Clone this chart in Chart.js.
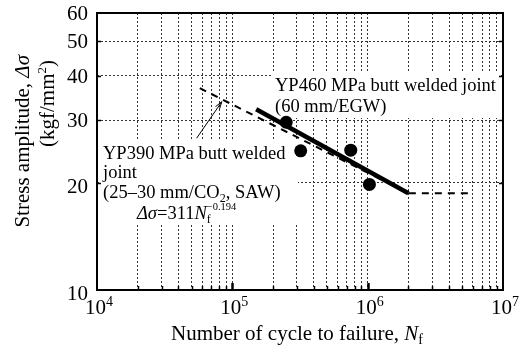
<!DOCTYPE html>
<html>
<head>
<meta charset="utf-8">
<script src="https://cdn.jsdelivr.net/npm/chart.js@4.4.1/dist/chart.umd.min.js"></script>
<style>
  html, body { margin: 0; padding: 0; background: #fff; }
</style>
</head>
<body>
<canvas id="myChart" width="528" height="354"></canvas>
<script>
// data
const cycles = [2.5e5, 3.2e5, 7.5e5, 1.03e6];
const stress = [29.6, 24.6, 24.7, 19.8];
const yp460Cycles = [1.5e5, 2.0e6];
const yp460Stress = [32.2, 18.7];
const yp390Cycles = [5.75e4, 2.0e6, 5.7e6];
const yp390Stress = [36.9, 18.7, 18.7];
const xTickExp = [4, 5, 6, 7];
const yTicks = [10, 20, 30, 40, 50, 60];

// minor grid 1..9 x 10^k
const xGrid = [];
for (let k = 4; k < 7; k++) for (let m = 1; m < 10; m++) xGrid.push(m * Math.pow(10, k));
xGrid.push(1e7);

const pts = (xs, ys) => xs.map((x, i) => ({ x: x, y: ys[i] }));
const FONT = '"Liberation Serif", "Times New Roman", serif';
const fnt = (size, it) => (it ? 'italic ' : '') + size + 'px ' + FONT;

// parts: [text, size, italic, dy, noAdvance]
function drawRuns(ctx, x, y, parts, align) {
  let w = 0;
  parts.forEach(p => { ctx.font = fnt(p[1], p[2]); p.w = ctx.measureText(p[0]).width; if (!p[4]) w += p.w; });
  let cx = align === 'center' ? x - w / 2 : align === 'right' ? x - w : x;
  ctx.textAlign = 'left';
  parts.forEach(p => { ctx.font = fnt(p[1], p[2]); ctx.fillText(p[0], cx, y + (p[3] || 0)); if (!p[4]) cx += p.w; });
}

const notes = {
  id: 'notes',
  beforeDatasetsDraw(chart) {
    const ctx = chart.ctx;
    const xs = chart.scales.x, ys = chart.scales.y;
    ctx.save();
    ctx.fillStyle = '#fff';
    ctx.fillRect(272, 72, 229, 46);
    ctx.fillRect(100, 140, 198, 85);
    ctx.fillStyle = '#000';
    ctx.textBaseline = 'alphabetic';
    drawRuns(ctx, 275, 91, [['YP460 MPa butt welded joint', 18.5, false, 0]], 'left');
    drawRuns(ctx, 275, 112, [['(60 mm/EGW)', 18.5, false, 0]], 'left');
    drawRuns(ctx, 103, 159, [['YP390 MPa butt welded', 18.5, false, 0]], 'left');
    drawRuns(ctx, 103, 178, [['joint', 18.5, false, 0]], 'left');
    drawRuns(ctx, 103, 198, [['(25\u201330 mm/CO', 18.5, false, 0], ['2', 12, false, 4], [', SAW)', 18.5, false, 0]], 'left');
    drawRuns(ctx, 137, 219, [['\u0394\u03c3', 18.5, true, 0], ['=311', 18.5, false, 0], ['N', 18.5, true, 0],
      ['f', 12, false, 4, true], ['\u22120.194', 10.5, false, -9]], 'left');

    // arrow from label to the YP390 line
    const tx = xs.getPixelForValue(5.45e4), ty = ys.getPixelForValue(26.7);
    const hx = xs.getPixelForValue(8.36e4), hy = ys.getPixelForValue(33.8);
    const ang = Math.atan2(hy - ty, hx - tx);
    ctx.strokeStyle = '#000';
    ctx.lineWidth = 1;
    ctx.beginPath();
    ctx.moveTo(tx, ty); ctx.lineTo(hx, hy);
    ctx.moveTo(hx - 8 * Math.cos(ang - 0.3), hy - 8 * Math.sin(ang - 0.3));
    ctx.lineTo(hx, hy);
    ctx.lineTo(hx - 8 * Math.cos(ang + 0.3), hy - 8 * Math.sin(ang + 0.3));
    ctx.stroke();
    ctx.restore();
  }
};

const frame = {
  id: 'frame',
  afterDraw(chart) {
    const ctx = chart.ctx, a = chart.chartArea;
    const xs = chart.scales.x, ys = chart.scales.y;
    ctx.save();
    ctx.fillStyle = '#000';
    ctx.strokeStyle = '#000';
    ctx.textBaseline = 'alphabetic';

    // inward ticks
    xGrid.forEach(v => {
      if (v <= 1e4 || v >= 1e7) return;
      const px = Math.round(xs.getPixelForValue(v)) + 0.5;
      const major = Math.abs(Math.log10(v) % 1) < 1e-9;
      ctx.lineWidth = major ? 2.5 : 1.5;
      ctx.beginPath();
      ctx.moveTo(px, a.bottom);
      ctx.lineTo(px, a.bottom - (major ? 7 : 4));
      ctx.stroke();
    });
    ctx.lineWidth = 1.5;
    yTicks.forEach(v => {
      if (v <= 10 || v >= 60) return;
      const py = Math.round(ys.getPixelForValue(v)) + 0.5;
      ctx.beginPath();
      ctx.moveTo(a.left, py); ctx.lineTo(a.left + 4, py);
      ctx.moveTo(a.right, py); ctx.lineTo(a.right - 4, py);
      ctx.stroke();
    });

    // frame
    ctx.lineWidth = 2;
    ctx.strokeRect(a.left, a.top, a.right - a.left, a.bottom - a.top);

    // tick labels
    yTicks.forEach(v => {
      const py = ys.getPixelForValue(v);
      drawRuns(ctx, a.left - 9, py + (v <= 20 ? 10 : 7), [[String(v), 21, false, 0]], 'right');
    });
    xTickExp.forEach(e => {
      const px = xs.getPixelForValue(Math.pow(10, e));
      drawRuns(ctx, px + 2, 314, [['10', 21, false, 0], [String(e), 14, false, -8]], 'center');
    });

    // axis titles
    drawRuns(ctx, (a.left + a.right) / 2 - 3, 340,
      [['Number of cycle to failure, ', 21, false, 0], ['N', 21, true, 0], ['f', 14, false, 4]], 'center');
    ctx.rotate(-Math.PI / 2);
    drawRuns(ctx, -55, 29, [['Stress amplitude, ', 21, false, 0], ['\u0394\u03c3', 21, true, 0]], 'right');
    drawRuns(ctx, -60, 54, [['(kgf/mm', 21, false, 0], ['2', 13, false, -8], [')', 21, false, 0]], 'right');
    ctx.restore();
  }
};

const ctx = document.getElementById('myChart');

new Chart(ctx, {
  type: 'scatter',
  data: {
    datasets: [
      { label: 'Data', data: pts(cycles, stress), pointRadius: 6.5, pointBackgroundColor: '#000',
        pointBorderWidth: 0, showLine: false },
      { label: 'YP460', data: pts(yp460Cycles, yp460Stress), showLine: true, borderColor: '#000',
        borderWidth: 4.5, pointRadius: 0, borderCapStyle: 'butt' },
      { label: 'YP390', data: pts(yp390Cycles, yp390Stress), showLine: true, borderColor: '#000',
        borderWidth: 2, borderDash: [7, 6], pointRadius: 0 }
    ]
  },
  options: {
    responsive: false,
    animation: false,
    layout: { padding: { left: 97, right: 25, top: 13, bottom: 64 } },
    plugins: { legend: { display: false }, tooltip: { enabled: false } },
    scales: {
      x: {
        type: 'logarithmic', min: 1e4, max: 1e7,
        afterBuildTicks: s => { s.ticks = xGrid.map(v => ({ value: v })); },
        ticks: { display: false },
        grid: { color: '#333', lineWidth: 1, drawTicks: false },
        border: { display: false, dash: [2, 2] }
      },
      y: {
        type: 'logarithmic', min: 10, max: 60,
        afterBuildTicks: s => { s.ticks = yTicks.map(v => ({ value: v })); },
        ticks: { display: false },
        grid: { color: '#333', lineWidth: 1, drawTicks: false },
        border: { display: false, dash: [2, 2] }
      }
    }
  },
  plugins: [notes, frame]
});
</script>
</body>
</html>
